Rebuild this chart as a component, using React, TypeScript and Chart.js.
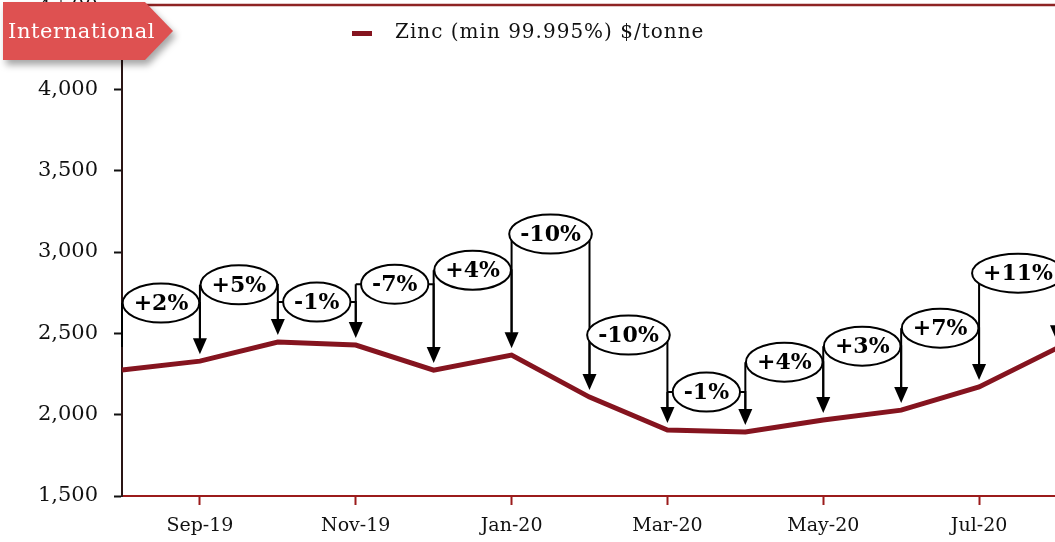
import React, { useEffect, useRef } from "react";
import { Chart, registerables } from "chart.js";

Chart.register(...registerables);

const months = ["Aug-19", "Sep-19", "Oct-19", "Nov-19", "Dec-19", "Jan-20", "Feb-20", "Mar-20", "Apr-20", "May-20", "Jun-20", "Jul-20", "Aug-20"];
const zincPrices = [2274, 2329, 2446, 2428, 2274, 2366, 2108, 1905, 1893, 1967, 2028, 2170, 2409];
const changeLabels = ["+2%", "+5%", "-1%", "-7%", "+4%", "-10%", "-10%", "-1%", "+4%", "+3%", "+7%", "+11%"];
const calloutLevels = [2686, 2798, 2692, 2802, 2888, 3110, 2489, 2139, 2323, 2421, 2532, 2870];
const yTicks = [1500, 2000, 2500, 3000, 3500, 4000, 4500];
const seriesName = "Zinc (min 99.995%) $/tonne";
const bannerText = "International";

const SERIF = "'DejaVu Serif', 'Liberation Serif', serif";
const LINE_COLOR = "#85141F";
const AXIS_RED = "#9B1B1B";

const overlayPlugin = {
  id: "overlay",
  afterDatasetsDraw(chart: any) {
    const ctx = chart.ctx;
    const xs = chart.scales.x;
    const ys = chart.scales.y;
    const px = (i: number) => xs.getPixelForValue(i);
    const tip = (i: number) => ys.getPixelForValue(zincPrices[i]) - 7;
    const headH = 16;
    const headW = 14;
    ctx.save();
    ctx.font = `bold 22px ${SERIF}`;
    const shapes: any[] = [];
    for (let i = 1; i < zincPrices.length; i++) {
      const xL = px(i - 1);
      const xR = px(i);
      const yc = ys.getPixelForValue(calloutLevels[i - 1]);
      const tw = ctx.measureText(changeLabels[i - 1]).width;
      const rx = tw / 2 + 11;
      const ry = 19.5;
      const cx = (xL + xR) / 2;
      shapes.push({ cx, yc, rx, ry, label: changeLabels[i - 1] });
      ctx.strokeStyle = "#000";
      ctx.fillStyle = "#000";
      ctx.lineWidth = 2;
      ctx.beginPath();
      ctx.moveTo(xL, yc);
      ctx.lineTo(xL, tip(i - 1) - headH);
      ctx.moveTo(xL, yc);
      ctx.lineTo(cx - rx, yc);
      ctx.moveTo(cx + rx, yc);
      ctx.lineTo(xR, yc);
      ctx.lineTo(xR, tip(i) - headH + 1);
      ctx.stroke();
      ctx.beginPath();
      ctx.moveTo(xR, tip(i));
      ctx.lineTo(xR - headW / 2, tip(i) - headH);
      ctx.lineTo(xR + headW / 2, tip(i) - headH);
      ctx.closePath();
      ctx.fill();
    }
    for (const s of shapes) {
      ctx.beginPath();
      ctx.ellipse(s.cx, s.yc, s.rx, s.ry, 0, 0, Math.PI * 2);
      ctx.fillStyle = "#fff";
      ctx.fill();
      ctx.lineWidth = 2;
      ctx.strokeStyle = "#000";
      ctx.stroke();
      ctx.fillStyle = "#000";
      ctx.textAlign = "center";
      ctx.textBaseline = "middle";
      ctx.fillText(s.label, s.cx, s.yc + 1);
    }

    // legend
    ctx.fillStyle = LINE_COLOR;
    ctx.fillRect(352, 31, 20, 5);
    ctx.fillStyle = "#111";
    ctx.font = `20px ${SERIF}`;
    (ctx as any).letterSpacing = "1px";
    ctx.textAlign = "left";
    ctx.textBaseline = "middle";
    ctx.fillText(seriesName, 395, 33);
    (ctx as any).letterSpacing = "0px";

    // top border
    ctx.strokeStyle = "#8E2424";
    ctx.lineWidth = 2.5;
    ctx.beginPath();
    ctx.moveTo(xs.left, 5);
    ctx.lineTo(chart.width, 5);
    ctx.stroke();

    // banner
    ctx.save();
    ctx.shadowColor = "rgba(0,0,0,0.35)";
    ctx.shadowBlur = 7;
    ctx.shadowOffsetX = 3;
    ctx.shadowOffsetY = 5;
    ctx.fillStyle = "#DE5151";
    ctx.beginPath();
    ctx.moveTo(3, 2);
    ctx.lineTo(145, 2);
    ctx.lineTo(173, 31);
    ctx.lineTo(145, 60);
    ctx.lineTo(3, 60);
    ctx.closePath();
    ctx.fill();
    ctx.restore();
    ctx.fillStyle = "#fff";
    ctx.font = `21px ${SERIF}`;
    (ctx as any).letterSpacing = "0.6px";
    ctx.textAlign = "left";
    ctx.textBaseline = "middle";
    ctx.fillText(bannerText, 8, 33);
    (ctx as any).letterSpacing = "0px";
    ctx.restore();
  },
};

export default function App() {
  const ref = useRef<HTMLCanvasElement | null>(null);
  useEffect(() => {
    if (!ref.current) return;
    const chart = new Chart(ref.current, {
      type: "line",
      data: {
        labels: months,
        datasets: [
          {
            label: seriesName,
            data: zincPrices,
            borderColor: LINE_COLOR,
            backgroundColor: LINE_COLOR,
            borderWidth: 5,
            pointRadius: 0,
            tension: 0,
          },
        ],
      },
      options: {
        animation: false,
        responsive: true,
        maintainAspectRatio: false,
        layout: { padding: { top: 8, right: 5, left: 0, bottom: 0 } },
        plugins: { legend: { display: false }, tooltip: { enabled: false } },
        scales: {
          x: {
            type: "category",
            offset: false,
            afterFit: (s: any) => {
              s.height = 46;
              s.paddingLeft = 0;
              s.paddingRight = 0;
            },
            border: { color: AXIS_RED, width: 2 },
            grid: {
              drawOnChartArea: false,
              drawTicks: true,
              tickLength: 9,
              tickWidth: 2,
              tickColor: (c: any) => (c.index % 2 === 1 ? AXIS_RED : "rgba(0,0,0,0)"),
            },
            ticks: {
              autoSkip: false,
              maxRotation: 0,
              padding: 10,
              color: "#111",
              font: { family: SERIF, size: 19 },
              callback: (_v: any, i: number) => (i % 2 === 1 ? months[i] : ""),
            },
          },
          y: {
            min: yTicks[0],
            max: yTicks[yTicks.length - 1],
            afterFit: (s: any) => {
              s.width = 122;
              s.paddingTop = 0;
              s.paddingBottom = 0;
            },
            afterBuildTicks: (s: any) => {
              s.ticks = yTicks.map((v) => ({ value: v }));
            },
            border: { color: "#2A1515", width: 2 },
            grid: { drawOnChartArea: false, tickLength: 8, tickWidth: 2, tickColor: "#111" },
            ticks: {
              padding: 16,
              color: "#111",
              font: { family: SERIF, size: 21 },
              callback: (v: any) => Number(v).toLocaleString("en-US"),
            },
          },
        },
      },
      plugins: [overlayPlugin],
    });
    return () => chart.destroy();
  }, []);
  return (
    <div style={{ position: "fixed", left: 0, top: 0, width: 1055, height: 542, overflow: "hidden", background: "#fff" }}>
      <div style={{ width: 1062, height: 542, position: "relative" }}>
        <canvas ref={ref} />
      </div>
    </div>
  );
}
